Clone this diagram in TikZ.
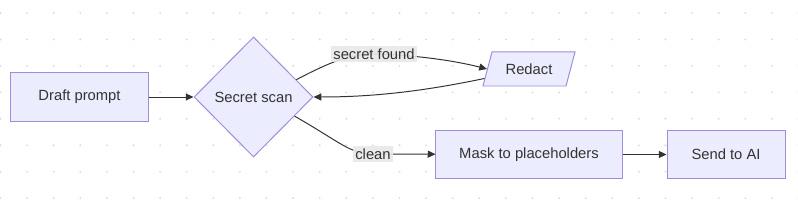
\documentclass[tikz,border=0pt]{standalone}
\usepackage{fontspec}
\setmainfont{Liberation Sans}
\usetikzlibrary{positioning,arrows.meta,shapes.geometric}
\definecolor{boxfill}{HTML}{ECECFF}
\definecolor{boxline}{HTML}{A08CDC}
\definecolor{ink}{HTML}{333333}
\definecolor{lblgray}{HTML}{E8E8E8}
\definecolor{dotgray}{HTML}{DCDCDC}

\begin{document}
\begin{tikzpicture}[
  x=0.025cm, y=-0.025cm,
  node distance=1.125cm,
  font=\fontsize{10.5}{12}\selectfont,
  flowbox/.style={draw=boxline,fill=boxfill,line width=0.7pt,minimum height=1.2cm,align=center,text=ink},
  scanbox/.style={diamond,draw=boxline,fill=boxfill,line width=0.7pt,inner sep=0pt,minimum width=2.975cm,minimum height=3cm,text=ink},
  slantbox/.style={trapezium,trapezium left angle=66,trapezium right angle=114,trapezium stretches body,draw=boxline,fill=boxfill,line width=0.7pt,minimum width=2.3cm,minimum height=0.85cm,text=ink},
  lbl/.style={fill=lblgray,fill opacity=0.9,text opacity=1,text=ink,inner sep=1.5pt},
  arr/.style={-{Triangle[length=5.5pt,width=5pt]},line width=0.7pt,draw=ink}
]
\useasboundingbox (0,0) rectangle (798,215);
% dotted background
\foreach \i in {0,...,30}
  \foreach \j in {0,...,7}
    \fill[dotgray] (0.5+26.6*\i,13+26.45*\j) circle (0.75pt);

\node[flowbox,minimum width=3.425cm] (draft) at (79.5,97) {Draft prompt};
\node[scanbox,right=of draft] (scan) {Secret scan};
\node[slantbox] (redact) at (529,69) {Redact};
\node[flowbox,minimum width=4.65cm,minimum height=1.175cm] (mask) at (529,154.5) {Mask to placeholders};
\node[flowbox,minimum width=2.95cm,minimum height=1.175cm,right=1.1cm of mask] (send) {Send to AI};

\draw[arr] (draft) -- (scan);
\draw[arr] (scan.22) .. controls (330,62) and (350,54) .. (374,54) node[lbl] {secret found}
  .. controls (420,55) and (460,62) .. (redact.west);
\draw[arr] (redact.192) .. controls (420,92) and (370,97) .. (scan.east);
\draw[arr] (scan.-25) .. controls (340,142) and (350,154) .. (373,154) node[lbl] {clean} -- (mask);
\draw[arr] (mask) -- (send);
\end{tikzpicture}
\end{document}
